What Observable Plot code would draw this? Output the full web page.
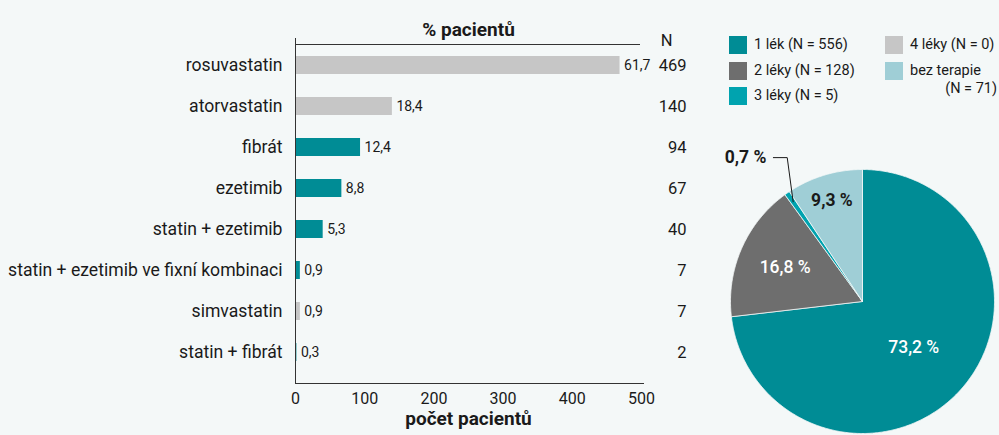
<!DOCTYPE html>
<html><head><meta charset="utf-8">
<script src="https://cdn.jsdelivr.net/npm/d3@7"></script>
<script src="https://cdn.jsdelivr.net/npm/@observablehq/plot@0.6"></script>
<style>
body{margin:0;background:#f4f8f8;font-family:Roboto,sans-serif;color:#1a1a1a}
#wrap{position:relative;width:999px;height:435px;overflow:hidden;background:#f4f8f8}
#bars,#pie{position:absolute;top:0}
#bars{left:0}#pie{left:700px}
#bars svg,#pie svg{background:transparent;overflow:visible}
#legend{position:absolute;left:729px;top:36px;font-size:14.5px;line-height:18px}
.item{position:absolute;display:flex;align-items:flex-start;white-space:nowrap}
.sw{width:18px;height:18px;margin-right:7px;flex:none}
.nline{display:block;text-align:right}
</style></head><body>
<div id="wrap"><div id="bars"></div><div id="pie"></div><div id="legend"></div></div>
<script>
// ---- bar chart data ----
const drugs = ["rosuvastatin","atorvastatin","fibrát","ezetimib","statin + ezetimib","statin + ezetimib ve fixní kombinaci","simvastatin","statin + fibrát"];
const patients = [469,140,94,67,40,7,7,2];
const percents = [61.7,18.4,12.4,8.8,5.3,0.9,0.9,0.3];
const drugKind = ["statin","statin","jiný","jiný","jiný","jiný","statin","jiný"];
const xTicks = [0,100,200,300,400,500];

// ---- pie data ----
const pieNames = ["1 lék","2 léky","3 léky","4 léky","bez terapie"];
const pieN = [556,128,5,0,71];
const piePercents = [73.2,16.8,0.7,0,9.3];

const pieColors = ["#008c95","#6e6e6e","#00a3af","#c6c6c6","#9fced6"];
const pieLabelColors = ["#ffffff","#ffffff","#1a1a1a","#1a1a1a","#1a1a1a"];
const pieLabelRadius = [0.52,0.64,null,null,0.80];

const fmt = v => String(v).replace(".", ",");

const rows = drugs.map((d,i)=>({drug:d, n:patients[i], pct:percents[i], kind:drugKind[i]}));

const bars = Plot.plot({
  width:700, height:435,
  marginLeft:295, marginRight:59, marginTop:44, marginBottom:52,
  style:{fontFamily:"Roboto, sans-serif", fontSize:"16px", color:"#1a1a1a", background:"transparent"},
  x:{domain:[0,500], axis:null},
  y:{domain:drugs, paddingInner:0.55, paddingOuter:0.395, align:0.3615, axis:null},
  color:{domain:["statin","jiný"], range:["#c6c6c6","#008c95"]},
  marks:[
    Plot.barX(rows,{x:"n", y:"drug", fill:"kind"}),
    Plot.axisY({tickSize:0, tickPadding:13, label:null, fontSize:17.6, fill:"#1a1a1a"}),
    Plot.axisX({anchor:"bottom", ticks:xTicks, tickSize:0, tickPadding:9, label:null, fontSize:16, fill:"#1a1a1a"}),
    Plot.frame({anchor:"top", stroke:"#333", insetRight:2}),
    Plot.frame({anchor:"bottom", stroke:"#333", insetRight:-2}),
    Plot.ruleX([0],{stroke:"#333", insetTop:-6}),
    Plot.text(rows,{x:"n", y:"drug", text:d=>fmt(d.pct), dx:4, textAnchor:"start", fontSize:14, fill:"#1a1a1a"}),
    Plot.text(rows,{y:"drug", text:d=>String(d.n), frameAnchor:"right", dx:45, textAnchor:"end", fontSize:16.5, fill:"#1a1a1a"}),
    Plot.text(["N"],{frameAnchor:"top-right", dx:31, dy:-10, fontSize:16.5, fill:"#1a1a1a"}),
    Plot.text(["% pacientů"],{frameAnchor:"top", dy:-22, fontWeight:"bold", fontSize:19, fill:"#1a1a1a"}),
    Plot.text(["počet pacientů"],{frameAnchor:"bottom", dy:41, fontWeight:"bold", fontSize:19, fill:"#1a1a1a"})
  ]
});
document.getElementById("bars").append(bars);

// ---- pie ----
const pieRows = pieNames.map((d,i)=>({name:d, n:pieN[i], pct:piePercents[i], color:pieColors[i], labelColor:pieLabelColors[i], lr:pieLabelRadius[i]}));
const arcs = d3.pie().sort(null).value(d=>d.n).startAngle(0).endAngle(2*Math.PI)(pieRows);
const pt = (a,r)=>({x:r*Math.sin(a), y:r*Math.cos(a)});
const sliceMarks = arcs.filter(a=>a.data.n>0).map(a=>{
  const pts=[{x:0,y:0}];
  const steps=Math.max(2,Math.ceil((a.endAngle-a.startAngle)/0.01));
  for(let k=0;k<=steps;k++){pts.push(pt(a.startAngle+(a.endAngle-a.startAngle)*k/steps,1));}
  pts.push({x:0,y:0});
  return Plot.line(pts,{x:"x",y:"y",fill:a.data.color,stroke:"#f4f8f8",strokeWidth:0.8,curve:"linear"});
});
const inLabels = arcs.filter(a=>a.data.n>0 && a.data.lr!=null).map(a=>{
  const p=pt((a.startAngle+a.endAngle)/2,a.data.lr);
  return {...p, text:fmt(a.data.pct)+" %", fill:a.data.labelColor};
});
const outer = arcs.filter(a=>a.data.n>0 && a.data.lr==null).map(a=>{
  const p1=pt((a.startAngle+a.endAngle)/2,0.92);
  const elbow={x:p1.x-0.045,y:1.09};
  const end={x:elbow.x-0.105,y:1.09};
  return {pts:[p1,elbow,end], end, text:fmt(a.data.pct)+" %"};
});
const pie = Plot.plot({
  width:299, height:435, margin:0,
  style:{fontFamily:"Roboto, sans-serif", fontSize:"16px", background:"transparent"},
  x:{domain:[-1,1], range:[30,294], axis:null},
  y:{domain:[-1,1], range:[433,169], axis:null},
  marks:[
    ...sliceMarks,
    Plot.text(inLabels.filter(d=>d.fill==="#ffffff"),{x:"x",y:"y",text:"text",fill:"fill",fontWeight:500, fontSize:17.5}),
    Plot.text(inLabels.filter(d=>d.fill!=="#ffffff"),{x:"x",y:"y",text:"text",fill:"fill",fontWeight:700, fontSize:17.5}),
    ...outer.map(o=>Plot.line(o.pts,{x:"x",y:"y",stroke:"#1a1a1a",strokeWidth:1})),
    Plot.text(outer,{x:d=>d.end.x,y:d=>d.end.y,text:"text",dx:-7,textAnchor:"end",fontWeight:700,fontSize:17.5,fill:"#1a1a1a"})
  ]
});
document.getElementById("pie").append(pie);

// ---- legend ----
const legend=document.getElementById("legend");
pieRows.forEach((d,i)=>{
  const col=Math.floor(i/3), row=i%3;
  const it=document.createElement("div");
  it.className="item";
  it.style.left=(col*156)+"px";
  it.style.top=(row*25.5)+"px";
  const sw=document.createElement("div");sw.className="sw";sw.style.background=d.color;
  const tx=document.createElement("div");
  if(d.name.length>8){
    tx.innerHTML=`${d.name}<span class="nline" style="width:87px">(N = ${d.n})</span>`;
  } else tx.textContent=`${d.name} (N = ${d.n})`;
  it.append(sw,tx);legend.append(it);
});
</script>
</body></html>
